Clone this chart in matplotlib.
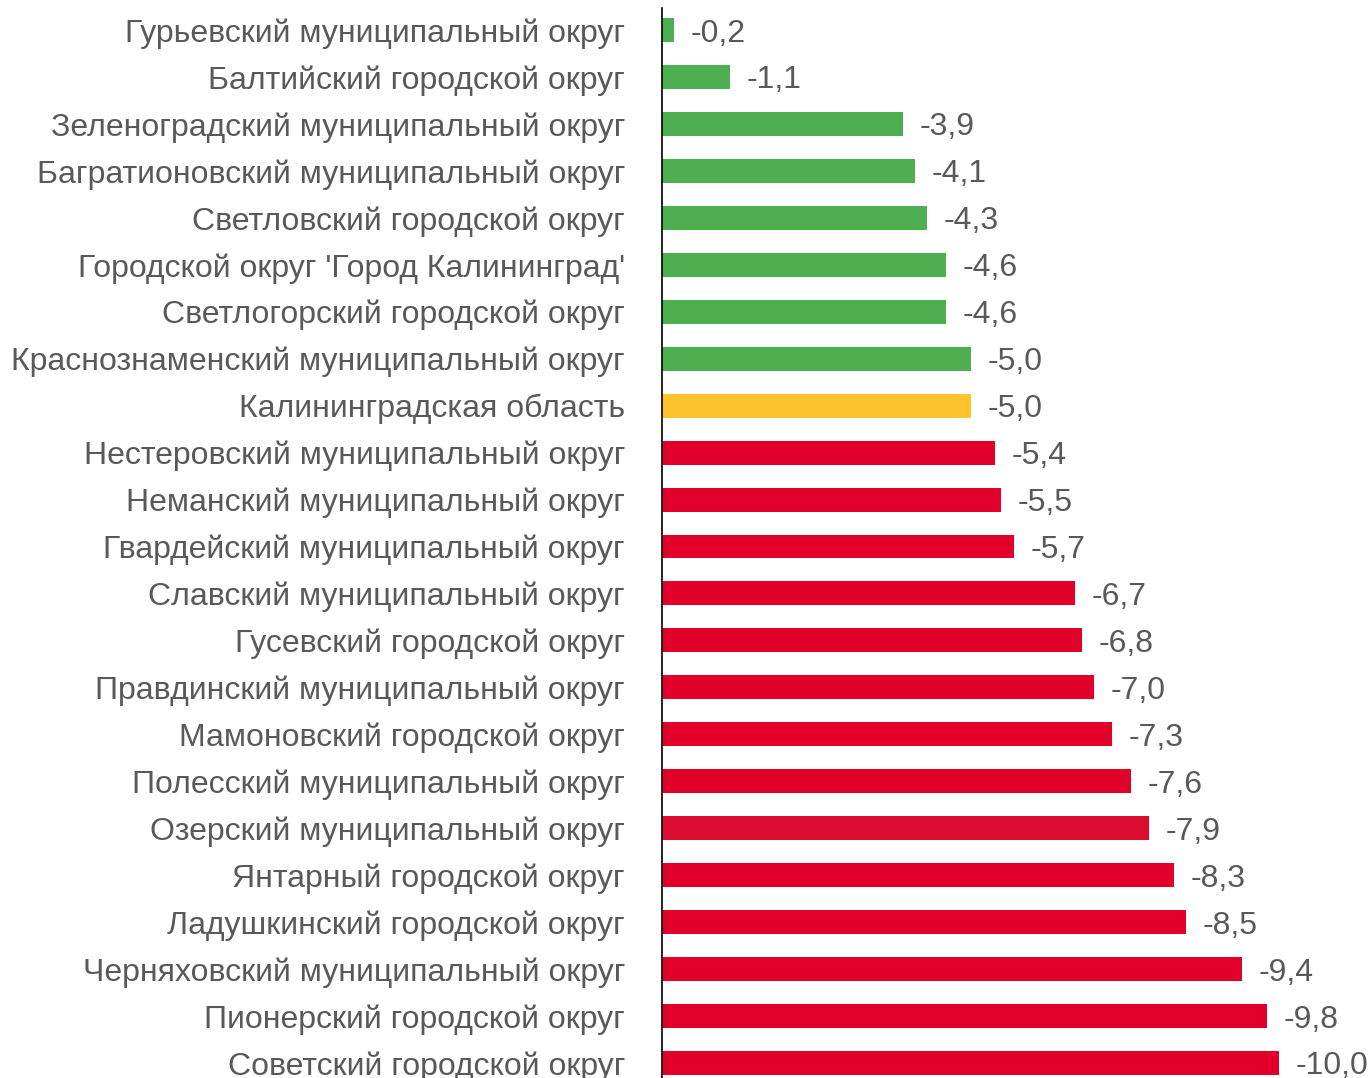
import matplotlib
matplotlib.use('Agg')
import matplotlib.pyplot as plt

regions = [
    "Гурьевский муниципальный округ",
    "Балтийский городской округ",
    "Зеленоградский муниципальный округ",
    "Багратионовский муниципальный округ",
    "Светловский городской округ",
    "Городской округ 'Город Калининград'",
    "Светлогорский городской округ",
    "Краснознаменский муниципальный округ",
    "Калининградская область",
    "Нестеровский муниципальный округ",
    "Неманский муниципальный округ",
    "Гвардейский муниципальный округ",
    "Славский муниципальный округ",
    "Гусевский городской округ",
    "Правдинский муниципальный округ",
    "Мамоновский городской округ",
    "Полесский муниципальный округ",
    "Озерский муниципальный округ",
    "Янтарный городской округ",
    "Ладушкинский городской округ",
    "Черняховский муниципальный округ",
    "Пионерский городской округ",
    "Советский городской округ",
]
values = [-0.2, -1.1, -3.9, -4.1, -4.3, -4.6, -4.6, -5.0, -5.0, -5.4, -5.5, -5.7,
          -6.7, -6.8, -7.0, -7.3, -7.6, -7.9, -8.3, -8.5, -9.4, -9.8, -10.0]

GREEN = "#4daf4f"
YELLOW = "#ffc32e"
RED = "#e2002a"
colors = [GREEN] * 8 + [YELLOW] + [RED] * 14
colors[17] = "#dc0c30"

plt.rcParams['font.family'] = ['Liberation Sans', 'DejaVu Sans']
TXT = "#595959"
FS = 23

fig = plt.figure(figsize=(13.7, 10.78), dpi=100)
ax = fig.add_axes([662 / 1370, 0.0, 1 - 662 / 1370, 1070 / 1078])

ypos = list(range(len(values)))
lengths = [abs(v) for v in values]
ax.barh(ypos, lengths, height=0.51, color=colors)

for y, l, v in zip(ypos, lengths, values):
    ax.text(l + 0.27, y, ("%.1f" % v).replace(".", ","), va="center_baseline", ha="left",
            fontsize=FS, color=TXT)

ax.set_yticks(ypos)
ax.set_yticklabels(regions, fontsize=FS, color=TXT, va="center_baseline")
ax.tick_params(axis="y", length=0, pad=26.6)
ax.set_xticks([])
ax.set_xlim(0, 708 / 61.7)
ax.set_ylim(22 + 15 / 46.95, -22 / 46.95)

for s in ["top", "right", "bottom"]:
    ax.spines[s].set_visible(False)
ax.spines["left"].set_color("black")
ax.spines["left"].set_linewidth(1.2)

fig.savefig("out.png", dpi=100)
